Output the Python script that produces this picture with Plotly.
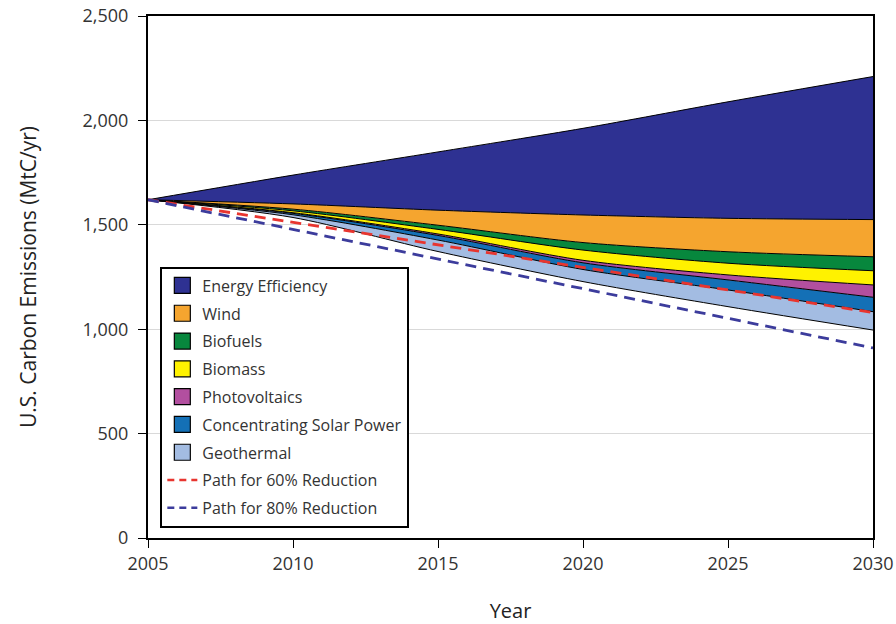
import plotly.graph_objects as go

years = [2005, 2010, 2015, 2020, 2025, 2030]

# remaining emissions after all wedges (bottom of the stack)
remaining = [1620, 1535, 1372, 1228, 1108, 996]
# wedge thicknesses (MtC/yr), stacked bottom -> top
geothermal = [0, 13, 55, 58, 80, 88]
csp = [0, 7, 22, 32, 48, 69]
photovoltaics = [0, 3, 7, 12, 24, 59]
biomass = [0, 9, 22, 49, 56, 68]
biofuels = [0, 8, 20, 36, 55, 67]
wind = [0, 25, 72, 132, 160, 178]
efficiency = [0, 138, 279, 415, 558, 685]

path60 = [1620, 1512, 1404, 1296, 1188, 1080]
path80 = [1620, 1478, 1336, 1194, 1052, 910]

y_ticks = [0, 500, 1000, 1500, 2000, 2500]
y_labels = ["0", "500", "1,000", "1,500", "2,000", "2,500"]
x_ticks = [2005, 2010, 2015, 2020, 2025, 2030]

layers = [
    ("Geothermal", geothermal, "#a3bce2"),
    ("Concentrating Solar Power", csp, "#1470b6"),
    ("Photovoltaics", photovoltaics, "#b24f9f"),
    ("Biomass", biomass, "#fff200"),
    ("Biofuels", biofuels, "#07873d"),
    ("Wind", wind, "#f5a52f"),
    ("Energy Efficiency", efficiency, "#2e3192"),
]

FONT = "Open Sans"
DASH = "11px,7px"
fig = go.Figure()

fig.add_trace(go.Scatter(
    x=years, y=remaining, stackgroup="s", fill="none", mode="lines",
    line=dict(color="black", width=1, shape="spline", smoothing=0.8),
    showlegend=False, hoverinfo="skip"))

for name, vals, col in layers:
    fig.add_trace(go.Scatter(
        x=years, y=vals, stackgroup="s", fill="tonexty", fillcolor=col,
        mode="lines", line=dict(color="black", width=1, shape="spline", smoothing=0.8),
        showlegend=False, name=name))

fig.add_trace(go.Scatter(
    x=years, y=path60, mode="lines", name="Path for 60% Reduction",
    line=dict(color="#e8352f", width=2.8, dash=DASH), showlegend=False))
fig.add_trace(go.Scatter(
    x=years, y=path80, mode="lines", name="Path for 80% Reduction",
    line=dict(color="#3c3c9c", width=2.8, dash=DASH), showlegend=False))

# legend entries
for name, vals, col in reversed(layers):
    fig.add_trace(go.Scatter(
        x=[None], y=[None], mode="markers", name=name, legendgroup=name,
        marker=dict(symbol="square", size=16, color=col, line=dict(color="black", width=1.2))))
fig.add_trace(go.Scatter(
    x=[None], y=[None], mode="lines", name="Path for 60% Reduction", legendgroup="p60",
    line=dict(color="#e8352f", width=2.5, dash="7px,5px")))
fig.add_trace(go.Scatter(
    x=[None], y=[None], mode="lines", name="Path for 80% Reduction", legendgroup="p80",
    line=dict(color="#3c3c9c", width=2.5, dash="7px,5px")))

fig.update_layout(
    width=896, height=624,
    margin=dict(l=148, r=23, t=16, b=86),
    paper_bgcolor="white", plot_bgcolor="white",
    font=dict(family=FONT, size=16, color="#333333"),
    legend=dict(
        x=0.017, y=0.02, xanchor="left", yanchor="bottom",
        bordercolor="black", borderwidth=2, bgcolor="white",
        font=dict(family=FONT, size=16, color="#333333"),
        tracegroupgap=4, traceorder="grouped", itemwidth=30,
    ),
    xaxis=dict(
        range=[2005, 2030], tickvals=x_ticks, ticks="outside", ticklen=8,
        tickcolor="black", showline=True, linecolor="black", linewidth=2, mirror=True,
        showgrid=False, zeroline=False, automargin=False, ticklabeloverflow="allow",
        tickfont=dict(size=18),
        title=dict(text="Year", font=dict(size=20, color="#222222"), standoff=34),
    ),
    yaxis=dict(
        range=[0, 2500], tickvals=y_ticks, ticktext=y_labels, ticks="outside", ticklen=8,
        tickcolor="black", showline=True, linecolor="black", linewidth=2, mirror=True,
        showgrid=True, gridcolor="#d9d9d9", gridwidth=1, zeroline=False, automargin=False,
        ticklabeloverflow="allow",
        tickfont=dict(size=18), ticklabelstandoff=6,
        title=dict(text="U.S. Carbon Emissions (MtC/yr)", font=dict(size=21, color="#222222"), standoff=40),
    ),
)

# remove the default 8px page margin so the figure fills the window exactly
fig.write_html("out.html", config={"displayModeBar": False},
               post_script="document.body.style.margin='0';")
